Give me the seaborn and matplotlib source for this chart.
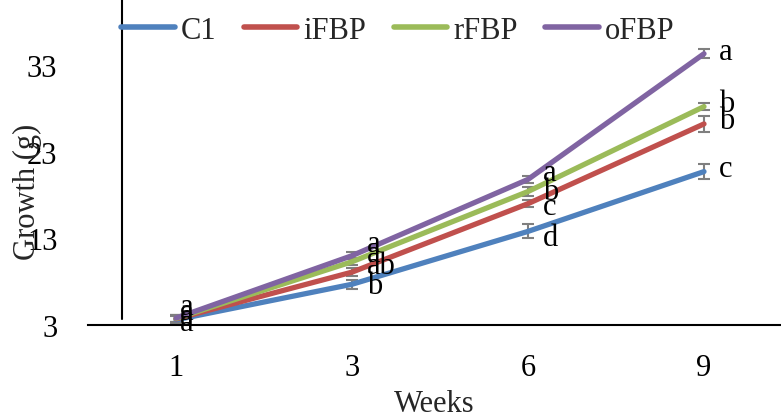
import matplotlib
matplotlib.use("Agg")
import matplotlib.pyplot as plt
import matplotlib.lines as mlines
import seaborn as sns
import pandas as pd
import numpy as np

weeks = ["1", "3", "6", "9"]
groups = ["C1", "iFBP", "rFBP", "oFBP"]
c1 = [3.6, 7.7, 13.8, 20.7]
ifbp = [3.7, 9.1, 17.0, 26.2]
rfbp = [3.75, 10.3, 18.4, 28.2]
ofbp = [3.8, 11.0, 19.8, 34.3]
c1_err = [0.4, 0.5, 0.8, 0.9]
ifbp_err = [0.4, 0.5, 0.4, 0.9]
rfbp_err = [0.4, 0.4, 0.5, 0.4]
ofbp_err = [0.4, 0.4, 0.4, 0.5]
c1_sig = ["a", "b", "d", "c"]
ifbp_sig = ["a", "ab", "c", "b"]
rfbp_sig = ["a", "a", "b", "b"]
ofbp_sig = ["a", "a", "a", "a"]
colors = ["#4F81BD", "#C0504D", "#9BBB59", "#8064A2"]

values = [c1, ifbp, rfbp, ofbp]
errs = [c1_err, ifbp_err, rfbp_err, ofbp_err]
sigs = [c1_sig, ifbp_sig, rfbp_sig, ofbp_sig]
# vertical nudges of the letter labels (pixels, up positive)
sig_dy = [[-3, -1, -6, 3], [2, 7, -3, 3], [7, 8, 0, 3], [12, 12, 7, 2]]

rows = []
for g, vals in zip(groups, values):
    for i, (w, v) in enumerate(zip(weeks, vals)):
        rows.append({"pos": i, "week": w, "group": g, "growth": v})
df = pd.DataFrame(rows)

sns.set_theme(style="white")
plt.rcParams["font.family"] = ["Liberation Serif", "DejaVu Serif"]

W, H = 781, 414
fig = plt.figure(figsize=(W / 100, H / 100), dpi=100)
ax = fig.add_axes([88 / W, 88 / H, 693 / W, 326 / H])

for g, vals, e in zip(groups, values, errs):
    ax.errorbar(range(len(weeks)), vals, yerr=e, fmt="none", ecolor="#7F7F7F",
                elinewidth=1.5, capsize=4, capthick=1.5, zorder=1)

sns.lineplot(data=df, x="pos", y="growth", hue="group", hue_order=groups,
             palette=colors, linewidth=3.8, ax=ax, legend=False,
             solid_capstyle="round", zorder=2)

px = 0.72  # points per pixel at 100 dpi
for vals, sg, dys in zip(values, sigs, sig_dy):
    for i, (v, s, dy) in enumerate(zip(vals, sg, dys)):
        dx = 4 if i == 0 else 15
        ax.annotate(s, (i, v), xytext=(dx * px, dy * px), textcoords="offset points",
                    ha="left", va="center", fontsize=22, color="black", zorder=3)

ax.set_xlim(-0.5, -0.5 + 693 / 176)
ax.set_ylim(3, 3 + 326 / 8.667)
ax.set_xticks(range(len(weeks)))
ax.set_xticklabels(weeks)
ax.set_yticks([3, 13, 23, 33])
ax.tick_params(axis="both", length=0, labelsize=22, colors="black")
ax.tick_params(axis="y", pad=22)
ax.tick_params(axis="x", pad=20)
ax.set_xlabel("")
ax.set_ylabel("")
for s in ["top", "right", "left"]:
    ax.spines[s].set_visible(False)
ax.spines["bottom"].set_color("black")
ax.spines["bottom"].set_linewidth(1.5)

handles = [mlines.Line2D([], [], color=c, linewidth=4, solid_capstyle="round") for c in colors]
leg = fig.legend(handles, groups, loc="upper left", bbox_to_anchor=(118 / W, 1 - 14 / H),
                 ncol=4, frameon=False, fontsize=22, handlelength=1.75,
                 handletextpad=0.2, columnspacing=0.9, borderaxespad=0, borderpad=0.1)

fig.add_artist(mlines.Line2D([122 / W, 122 / W], [94 / H, 1.0], color="black", linewidth=1.5,
                             transform=fig.transFigure))

fig.text(27 / W, 222 / H, "Growth (g)", rotation=90, ha="center", va="center", fontsize=22)
fig.text(434 / W, 2 / H, "Weeks", ha="center", va="baseline", fontsize=22)

fig.savefig("out.png", dpi=100)
